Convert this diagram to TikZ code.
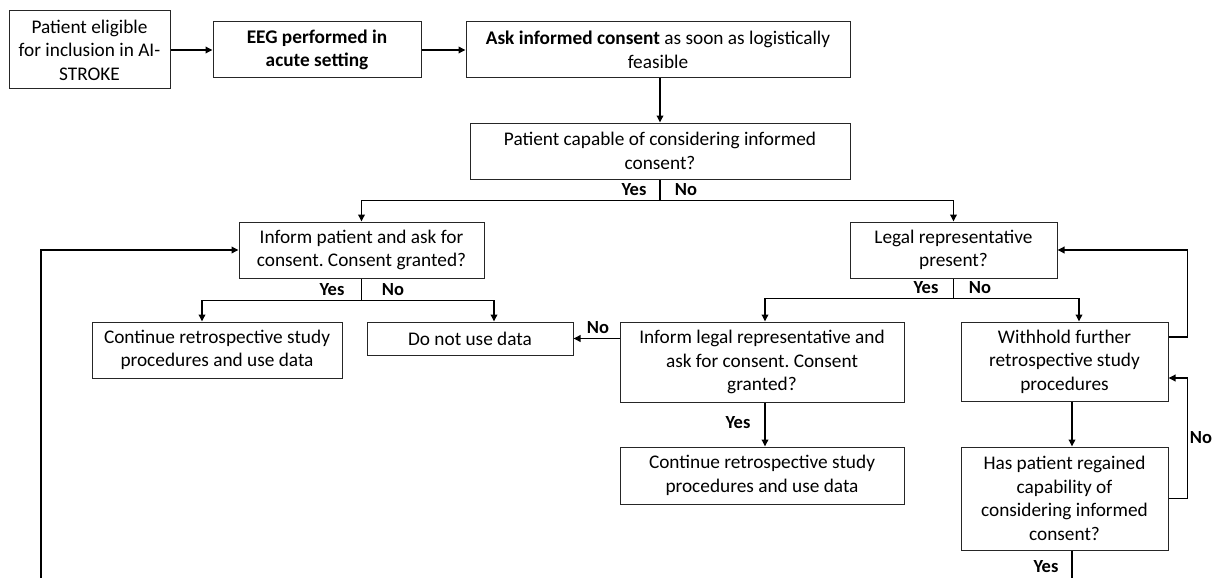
\documentclass[tikz,border=0pt]{standalone}
\usepackage{fontspec}
\setmainfont{Carlito}
\usetikzlibrary{arrows.meta}
\frenchspacing
\newcommand\boxfont{\fontsize{19.3}{23.5}\selectfont}
\newcommand\lblfont{\fontsize{18.5}{20}\selectfont\bfseries}
\tikzset{
  box/.style={draw=black!85, line width=1pt, align=center, inner sep=0pt, font=\boxfont},
  conn/.style={draw=black, line width=1.8pt, -{Triangle[length=7pt,width=6.5pt]}},
  plain/.style={draw=black, line width=1.8pt},
  lbl/.style={font=\lblfont, inner sep=0pt}
}
\begin{document}
\begin{tikzpicture}[x=1pt,y=-1pt]
\useasboundingbox (0,0) rectangle (1216,578);
% boxes
\node[box, minimum width=161pt, minimum height=78pt] (A) at (89.5,50) {Patient eligible\\for inclusion in AI-\\STROKE};
\node[box, minimum width=208pt, minimum height=56pt] (B) at (317,50) {\textbf{EEG performed in}\\\textbf{acute setting}};
\node[box, minimum width=384pt, minimum height=56pt] (C) at (658,50) {\textbf{Ask informed consent} as soon as logistically\\feasible};
\node[box, minimum width=380pt, minimum height=56pt] (D) at (660,151) {Patient capable of considering informed\\consent?};
\node[box, minimum width=245pt, minimum height=56pt] (E) at (361.5,250) {Inform patient and ask for\\consent. Consent granted?};
\node[box, minimum width=207pt, minimum height=56pt] (F) at (953.5,250) {Legal representative\\present?};
\node[box, minimum width=250pt, minimum height=56pt] (G) at (217,350) {Continue retrospective study\\procedures and use data};
\node[box, minimum width=206pt, minimum height=33pt] (H) at (470,338.5) {Do not use data};
\node[box, minimum width=284pt, minimum height=80pt] (I) at (762,362) {Inform legal representative and\\ask for consent. Consent\\granted?};
\node[box, minimum width=207pt, minimum height=79pt] (J) at (1064.5,361.5) {Withhold further\\retrospective study\\procedures};
\node[box, minimum width=284pt, minimum height=57pt] (L) at (762,475.5) {Continue retrospective study\\procedures and use data};
\node[box, minimum width=207pt, minimum height=103pt] (K) at (1064.5,498.5) {Has patient regained\\capability of\\considering informed\\consent?};
% connectors
\draw[conn] (A) -- (B);
\draw[conn] (B) -- (C);
\draw[conn] (D.north |- C.south) -- (D.north);
\draw[plain] (D.south) -- ++(0,21) coordinate (d1);
\draw[conn] (d1) -| (E.north);
\draw[conn] (d1) -| (F.north);
\draw[plain] (E.south) -- ++(0,22) coordinate (e1);
\draw[conn] (e1) -| ([xshift=-15pt]G.north);
\draw[conn] (e1) -| ([xshift=24pt]H.north);
\draw[plain] (F.south) -- ++(0,20) coordinate (f1);
\draw[conn] (f1) -| ([xshift=3pt]I.north);
\draw[conn] (f1) -| ([xshift=14.5pt]J.north);
\draw[conn] (H.east -| I.west) -- (H.east);
\draw[conn] ([xshift=3pt]I.south) -- ([xshift=3pt]L.north);
\draw[conn] ([yshift=24.5pt]J.east) -- ++(19,0) |- (F.east);
\draw[conn] ([xshift=7.5pt]J.south) -- ([xshift=7.5pt]K.north);
\draw[conn] (K.east) -- ++(19,0) |- ([yshift=-16.5pt]J.east);
\coordinate (kb) at (1072,580);
\draw[plain] ([xshift=7.5pt]K.south) -- (kb);
\coordinate (lb) at (41,580);
\draw[conn] (lb) |- (E.west);
% labels
\node[lbl] (y1) at (634,190) {Yes};
\node[lbl] (n1) at (686,190) {No};
\node[lbl] (y2) at (332,290) {Yes};
\node[lbl] (n2) at (393,290) {No};
\node[lbl] (y3) at (926,288) {Yes};
\node[lbl] (n3) at (980,288) {No};
\node[lbl] (n4) at (598,328) {No};
\node[lbl] (y4) at (738,423) {Yes};
\node[lbl] (n5) at (1201,438) {No};
\node[lbl] (y5) at (1046,567) {Yes};
\end{tikzpicture}
\end{document}
